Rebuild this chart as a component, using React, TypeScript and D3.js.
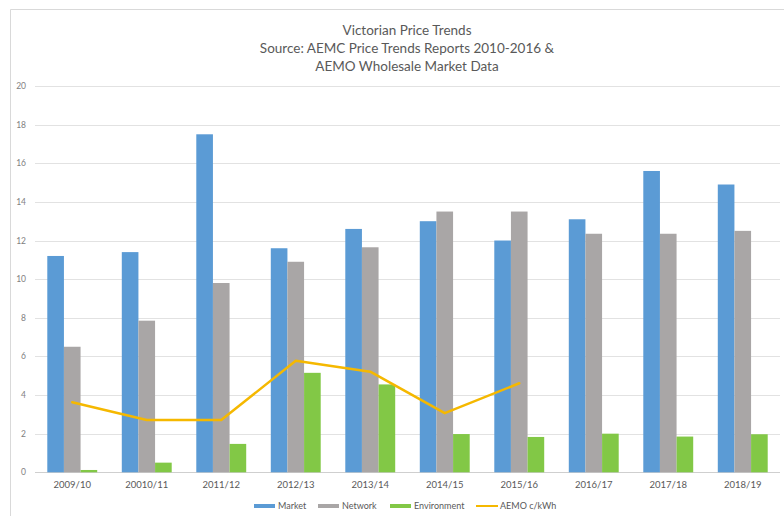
import React from "react";
import * as d3 from "d3";

const categories = ["2009/10", "20010/11", "2011/12", "2012/13", "2013/14", "2014/15", "2015/16", "2016/17", "2017/18", "2018/19"];
const market = [11.2, 11.4, 17.5, 11.6, 12.6, 13.0, 12.0, 13.1, 15.6, 14.9];
const network = [6.5, 7.85, 9.8, 10.9, 11.65, 13.5, 13.5, 12.35, 12.35, 12.5];
const environment = [0.12, 0.5, 1.47, 5.15, 4.55, 1.98, 1.83, 2.0, 1.85, 1.97];
const aemo = [3.63, 2.71, 2.71, 5.77, 5.21, 3.06, 4.61];
const yTicks = [0, 2, 4, 6, 8, 10, 12, 14, 16, 18, 20];
const titleLines = ["Victorian Price Trends", "Source: AEMC Price Trends Reports 2010-2016 &", "AEMO Wholesale Market Data"];

const seriesNames = ["Market", "Network", "Environment"];
const seriesColors = ["#5b9bd5", "#a9a6a6", "#82c846"];
const lineName = "AEMO c/kWh";
const lineColor = "#f5b800";

const W = 784;
const H = 516;
const FONT = "Lato, 'Open Sans', sans-serif";

export default function App() {
  const x0 = d3.scaleBand<string>().domain(categories).range([35, 780]).paddingInner(0.33).paddingOuter(0.165);
  const x1 = d3.scaleBand<string>().domain(seriesNames).range([0, x0.bandwidth()]).padding(0);
  const y = d3.scaleLinear().domain([0, 20]).range([472.3, 86]);
  const series = [market, network, environment];

  const lineGen = d3
    .line<number>()
    .x((_, i) => (x0(categories[i]) as number) + x0.bandwidth() / 2)
    .y((d) => y(d));

  const legendItems = [
    { name: "Market", color: seriesColors[0], x: 254, kind: "bar" },
    { name: "Network", color: seriesColors[1], x: 318, kind: "bar" },
    { name: "Environment", color: seriesColors[2], x: 390, kind: "bar" },
    { name: lineName, color: lineColor, x: 476, kind: "line" },
  ];

  return (
    <svg width={W} height={H} style={{ position: "absolute", left: 0, top: 0, background: "#fff" }} fontFamily={FONT}>
      <rect x={0} y={0} width={W} height={H} fill="#fff" />
      {/* chart frame */}
      <path d={`M10.5,${H} V9.5 H${W}`} fill="none" stroke="#d9d9d9" strokeWidth={1} />

      {/* title */}
      {titleLines.map((t, i) => (
        <text key={t} x={407} y={35 + i * 18} textAnchor="middle" fontSize={13.5} fill="#595959">
          {t}
        </text>
      ))}

      {/* gridlines and y tick labels */}
      {yTicks.map((t) => (
        <g key={t}>
          <line x1={35} x2={780} y1={Math.round(y(t)) + 0.5} y2={Math.round(y(t)) + 0.5} stroke={t === 0 ? "#cfcfcf" : "#e2e2e2"} strokeWidth={1} />
          <text x={26} y={y(t) + 3} textAnchor="end" fontSize={8.5} fill="#7f7f7f">
            {t}
          </text>
        </g>
      ))}

      {/* bars */}
      {series.map((vals, si) =>
        vals.map((v, i) => (
          <rect
            key={`${si}-${i}`}
            x={(x0(categories[i]) as number) + (x1(seriesNames[si]) as number)}
            y={y(v)}
            width={x1.bandwidth()}
            height={y(0) - y(v)}
            fill={seriesColors[si]}
          />
        ))
      )}

      {/* AEMO wholesale line */}
      <path d={lineGen(aemo) || ""} fill="none" stroke={lineColor} strokeWidth={2.5} strokeLinejoin="round" strokeLinecap="round" />

      {/* x category labels */}
      {categories.map((c) => (
        <text key={c} x={(x0(c) as number) + x0.bandwidth() / 2} y={488} textAnchor="middle" fontSize={9.5} fill="#595959">
          {c}
        </text>
      ))}

      {/* legend */}
      {legendItems.map((it) => (
        <g key={it.name}>
          {it.kind === "bar" ? (
            <rect x={it.x} y={504} width={21} height={4} fill={it.color} />
          ) : (
            <line x1={it.x} x2={it.x + 22} y1={506} y2={506} stroke={it.color} strokeWidth={2} />
          )}
          <text x={it.x + 24} y={509} fontSize={9} fill="#595959">
            {it.name}
          </text>
        </g>
      ))}
    </svg>
  );
}
